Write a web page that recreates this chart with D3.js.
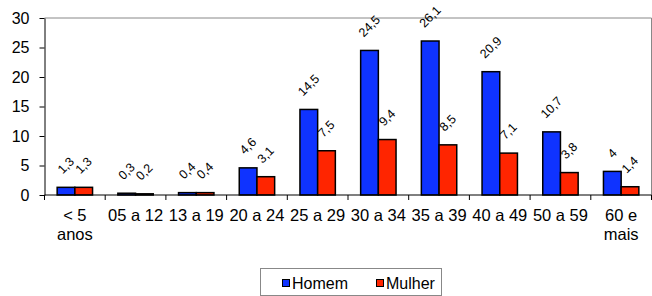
<!DOCTYPE html>
<html>
<head>
<meta charset="utf-8">
<script src="https://cdn.jsdelivr.net/npm/d3@7"></script>
<style>
  body { margin: 0; background: #fff; }
  text { font-family: "Liberation Sans", Arial, sans-serif; fill: #000; }
</style>
</head>
<body>
<div id="chart"></div>
<script>
var categories = ["< 5 anos", "05 a 12", "13 a 19", "20 a 24", "25 a 29",
                  "30 a 34", "35 a 39", "40 a 49", "50 a 59", "60 e mais"];
var series = ["Homem", "Mulher"];
var homem = [1.3, 0.3, 0.4, 4.6, 14.5, 24.5, 26.1, 20.9, 10.7, 4];
var mulher = [1.3, 0.2, 0.4, 3.1, 7.5, 9.4, 8.5, 7.1, 3.8, 1.4];
var yTicks = [0, 5, 10, 15, 20, 25, 30];

var colors = { Homem: "#0f33ff", Mulher: "#ff2500" };

var w = 652, h = 296,
    plotL = 44.5, plotR = 651.5, plotT = 18, plotB = 195;

var svg = d3.select("#chart").append("svg")
    .attr("width", w)
    .attr("height", h);

var x = d3.scaleBand().domain(categories).range([plotL, plotR]).paddingInner(0);
var x1 = d3.scaleBand().domain(series).range([0, x.bandwidth()]).paddingOuter(0.715);
var y = d3.scaleLinear().domain([0, 30]).range([plotB, plotT]);

// plot frame (top and right in grey)
svg.append("path")
    .attr("d", "M" + plotL + "," + plotT + "H" + plotR + "V" + plotB)
    .attr("fill", "none")
    .attr("stroke", "#888")
    .attr("stroke-width", 1);

// y axis
var yAxis = svg.append("g")
    .attr("transform", "translate(" + plotL + ",0)")
    .call(d3.axisLeft(y).tickValues(yTicks).tickSize(5).tickSizeOuter(0).tickPadding(10));
yAxis.selectAll("text").style("font-size", "16px").attr("font-family", null);
yAxis.selectAll("line, path").attr("stroke", "#000");

// bars
var rows = categories.map(function(c, i) {
  return [{ cat: c, s: "Homem", v: homem[i] }, { cat: c, s: "Mulher", v: mulher[i] }];
});

var groups = svg.selectAll(".grp")
    .data(rows)
    .enter().append("g")
    .attr("class", "grp")
    .attr("transform", function(d) { return "translate(" + x(d[0].cat) + ",0)"; });

groups.selectAll("rect")
    .data(function(d) { return d; })
    .enter().append("rect")
    .attr("x", function(d) { return x1(d.s); })
    .attr("y", function(d) { return y(d.v); })
    .attr("width", x1.bandwidth())
    .attr("height", function(d) { return plotB - y(d.v); })
    .attr("fill", function(d) { return colors[d.s]; })
    .attr("stroke", "#000")
    .attr("stroke-width", 1.5);

// value labels, rotated
groups.selectAll("text.val")
    .data(function(d) { return d; })
    .enter().append("text")
    .attr("class", "val")
    .style("font-size", "12.5px")
    .attr("text-anchor", "middle")
    .attr("dominant-baseline", "central")
    .text(function(d) { return String(d.v).replace(".", ","); })
    .attr("transform", function(d) {
      var tw = this.getComputedTextLength();
      var off = 11 + 0.707 * (tw + 13) / 2;
      return "translate(" + (x1(d.s) + x1.bandwidth() / 2) + "," + (y(d.v) - off) + ") rotate(-45)";
    });

// x axis line and ticks at band edges
svg.append("line")
    .attr("x1", plotL).attr("x2", plotR)
    .attr("y1", plotB).attr("y2", plotB)
    .attr("stroke", "#000");

var edges = categories.map(function(c) { return x(c); }).concat([plotR]);
svg.selectAll(".xtick")
    .data(edges)
    .enter().append("line")
    .attr("class", "xtick")
    .attr("x1", function(d) { return d; })
    .attr("x2", function(d) { return d; })
    .attr("y1", plotB)
    .attr("y2", plotB + 5)
    .attr("stroke", "#000");

// category labels, wrapped to band width
var xl = svg.selectAll(".xlab")
    .data(categories)
    .enter().append("text")
    .attr("class", "xlab")
    .attr("text-anchor", "middle")
    .style("font-size", "16.5px")
    .attr("x", function(d) { return x(d) + x.bandwidth() / 2; })
    .attr("y", 221);

xl.each(function(d) {
  var t = d3.select(this), words = d.split(" "), line = [], lines = [];
  var probe = t.append("tspan");
  words.forEach(function(wd) {
    line.push(wd);
    probe.text(line.join(" "));
    if (probe.node().getComputedTextLength() > x.bandwidth() - 1 && line.length > 1) {
      line.pop();
      lines.push(line.join(" "));
      line = [wd];
    }
  });
  lines.push(line.join(" "));
  probe.remove();
  lines.forEach(function(l, i) {
    t.append("tspan")
      .attr("x", x(d) + x.bandwidth() / 2)
      .attr("dy", i === 0 ? 0 : 18.5)
      .text(l);
  });
});

// legend
var lg = svg.append("g");
lg.append("rect")
    .attr("x", 260.5).attr("y", 268.5)
    .attr("width", 181).attr("height", 27)
    .attr("fill", "#fff")
    .attr("stroke", "#888");

var lx = [282, 376];
series.forEach(function(s, i) {
  lg.append("rect")
    .attr("x", lx[i] + 0.5).attr("y", 279.5)
    .attr("width", 7).attr("height", 7)
    .attr("fill", colors[s])
    .attr("stroke", "#000");
  lg.append("text")
    .attr("x", lx[i] + 10)
    .attr("y", 289)
    .style("font-size", "16px")
    .text(s);
});
</script>
</body>
</html>
